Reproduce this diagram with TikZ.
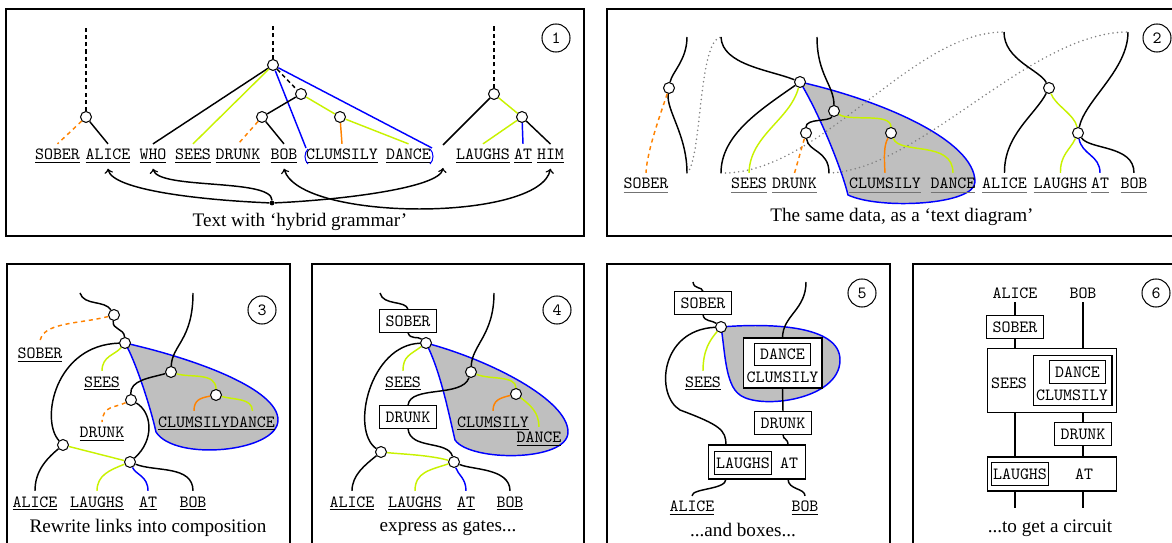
\documentclass[tikz,border=0pt]{standalone}
\usepackage{fontspec}
\setmainfont{Liberation Serif}
\usetikzlibrary{calc,backgrounds}
\definecolor{lime}{RGB}{200,242,0}
\definecolor{orng}{RGB}{255,130,0}
\definecolor{shade}{RGB}{191,191,191}
\newcommand\wu[1]{\setbox0\hbox{#1}\rlap{\copy0}\rule[-1.9pt]{\wd0}{0.45pt}}
\newcommand\wg[1]{\setbox0\hbox{#1}\rlap{\copy0}\textcolor{black!55}{\rule[-2.6pt]{\wd0}{1pt}}}
\tikzset{
  wire/.style={line width=0.85pt},
  lw/.style={wire, draw=lime},
  ow/.style={wire, draw=orng},
  bw/.style={wire, draw=blue},
  od/.style={ow, dash pattern=on 2.4pt off 2.2pt},
  kd/.style={wire, dash pattern=on 2.4pt off 1.8pt},
  thinw/.style={line width=0.6pt},
  dot/.style={circle, draw, fill=white, line width=0.6pt, minimum size=6.4pt, inner sep=0pt},
  hubdot/.style={circle, fill, minimum size=2.8pt, inner sep=0pt},
  word/.style={font=\ttfamily, inner xsep=1pt, inner ysep=3pt, anchor=base},
  tt/.style={font=\ttfamily, inner sep=1pt},
  gate/.style={draw, fill=white, line width=0.6pt, font=\ttfamily, inner xsep=3.5pt, inner ysep=0pt, minimum height=13pt},
  gatet/.style={gate, inner xsep=1.2pt},
  frame/.style={draw, line width=0.9pt},
  num/.style={circle, draw, line width=0.6pt, minimum size=16.4pt, inner sep=0pt, font=\ttfamily},
  capt/.style={font=\fontsize{11.2}{13}\selectfont, inner sep=1pt},
  region/.style={fill=shade, draw=blue, line width=0.85pt},
  link/.style={draw=black!50, line width=1pt, dash pattern=on 0pt off 2.6pt, line cap=round},
  >=to
}
\begin{document}
\begin{tikzpicture}[x=0.585pt,y=-0.585pt]
\useasboundingbox (0,0) rectangle (1172,543);
\clip (0,0) rectangle (1172,543);

% ================= Panel 1 =================
\draw[frame] (6,9) rectangle (584,236);
\node[num] (num1) at (556,38) {1};
\node[capt] (cap1) at (300,222) {Text with ‘hybrid grammar’};
\node[word] (p1sober) at (57.5,160) {\wu{SOBER}};
\node[word] (p1alice) at (108,160) {\wu{ALICE}};
\node[word] (p1who) at (153,160) {\wu{WHO}};
\node[word] (p1sees) at (193,160) {\wu{SEES}};
\node[word] (p1drunk) at (238,160) {\wu{DRUNK}};
\node[word] (p1bob) at (284,160) {\wu{BOB}};
\node[word] (p1clum) at (342,160) {\wu{CLUMSILY}};
\node[word] (p1dance) at (408.5,160) {\wu{DANCE}};
\node[word] (p1laughs) at (483,160) {\wu{LAUGHS}};
\node[word] (p1at) at (523,160) {\wu{AT}};
\node[word] (p1him) at (550.5,160) {\wu{HIM}};
\draw[blue, line width=0.6pt] (308,149) .. controls (304,153) and (304,160) .. (308,164);
\draw[blue, line width=0.6pt] (430,149) .. controls (434,153) and (434,160) .. (430,164);
\coordinate (lp) at (306,148);
\coordinate (rp) at (432,148);
\node[dot] (n1) at (86,117) {};
\node[dot] (n2) at (273,65) {};
\node[dot] (n3) at (301,94) {};
\node[dot] (n4) at (262,117) {};
\node[dot] (n5) at (340,117) {};
\node[dot] (n6) at (494,94) {};
\node[dot] (n7) at (522,117) {};
\coordinate (t1) at (86,26);
\coordinate (t2) at (273,26);
\coordinate (t3) at (494,26);
\coordinate (whoend) at (443,145);
\coordinate (whoarr) at (443,168);
\node[hubdot] (hub) at (272,203) {};
\draw[kd] (n1) -- (t1);
\draw[kd] (n2) -- (t2);
\draw[kd] (n6) -- (t3);
\draw[od] (n1) -- (p1sober.north);
\draw[wire] (n1) -- (p1alice.north);
\draw[wire] (n2) -- (p1who.north);
\draw[lw] (n2) -- (p1sees.north);
\draw[bw] (n2) -- (lp);
\draw[bw] (n2) -- (rp);
\draw[kd] (n2) -- (n3);
\draw[wire] (n3) -- (n4);
\draw[lw] (n3) -- (n5);
\draw[lw] (n5) -- (p1dance.north);
\draw[ow] (n5) -- (p1clum.north);
\draw[od] (n4) -- (p1drunk.north);
\draw[wire] (n4) -- (p1bob.north);
\draw[wire] (n6) -- (whoend);
\draw[lw] (n6) -- (n7);
\draw[lw] (n7) -- (p1laughs.north);
\draw[bw] (n7) -- (p1at.north);
\draw[wire] (n7) -- (p1him.north);
\draw[wire,->] (hub) .. controls (200,200) and (112,190) .. (p1alice.south);
\draw[wire,->] (hub) .. controls (272,178) and (158,190) .. (p1who.south);
\draw[wire,->] (hub) .. controls (340,200) and (440,188) .. (whoarr);
\draw[wire,<->] (p1bob.south) .. controls (300,222) and (540,222) .. (p1him.south);

% ================= Panel 2 =================
\draw[frame] (607,9) rectangle (1195,236);
\node[num] (num2) at (1157,38) {2};
\node[capt] (cap2) at (902,217) {The same data, as a ‘text diagram’};
\node[word] (p2sober) at (646,189) {\wg{SOBER}};
\node[word] (p2sees) at (749,189) {\wg{SEES}};
\node[word] (p2drunk) at (794.5,189) {\wg{DRUNK}};
\node[word] (p2clum) at (885,189) {\wg{CLUMSILY}};
\node[word] (p2dance) at (953,189) {\wg{DANCE}};
\node[word] (p2alice) at (1004.5,189) {\wg{ALICE}};
\node[word] (p2laughs) at (1060.5,189) {\wg{LAUGHS}};
\node[word] (p2at) at (1100,189) {\wg{AT}};
\node[word] (p2bob) at (1134,189) {\wg{BOB}};
\node[dot] (a1) at (669,88) {};
\node[dot] (a2) at (800,82) {};
\node[dot] (a3) at (834,111) {};
\node[dot] (a4) at (806,133) {};
\node[dot] (a5) at (891,133) {};
\node[dot] (a6) at (1049,88) {};
\node[dot] (a7) at (1078,133) {};
\coordinate (s1t) at (687,37);
\coordinate (s2t) at (721,37);
\coordinate (s3t) at (817,37);
\coordinate (s4t) at (1004,32);
\coordinate (s5t) at (1128,32);
\coordinate (s1b) at (687,173);
\coordinate (s2b) at (721,173);
\coordinate (s3b) at (829,173);
\begin{scope}[on background layer]
\path[region] (a2.center) .. controls (880,100) and (975,140) .. (975,182)
  .. controls (975,205) and (880,210) .. (848,195)
  .. controls (842,170) and (820,115) .. (a2.center) -- cycle;
\end{scope}
\draw[link] (s1b) .. controls (702,160) and (698,40) .. (s2t);
\draw[link] (s2b) .. controls (820,175) and (910,32) .. (s4t);
\draw[link] (s3b) .. controls (920,170) and (1030,32) .. (s5t);
\draw[wire] (s1t) .. controls (687,60) and (672,72) .. (a1);
\draw[wire] (a1) .. controls (666,110) and (687,135) .. (s1b);
\draw[od] (a1) .. controls (662,110) and (647,150) .. (p2sober.north);
\draw[wire] (s2t) .. controls (722,65) and (770,70) .. (a2);
\draw[wire] (a2) .. controls (760,110) and (721,135) .. (s2b);
\draw[lw] (a2) .. controls (790,120) and (750,135) .. (p2sees.north);
\draw[wire] (s3t) .. controls (817,75) and (834,85) .. (a3);
\draw[wire] (a3) .. controls (830,122) and (806,118) .. (a4);
\draw[lw] (a3) .. controls (850,122) and (891,112) .. (a5);
\draw[od] (a4) -- (p2drunk.north);
\draw[wire] (a4) .. controls (808,152) and (829,150) .. (s3b);
\draw[ow] (a5) .. controls (884,145) and (884,155) .. (p2clum.north);
\draw[lw] (a5) .. controls (900,155) and (953,140) .. (p2dance.north);
\draw[wire] (s4t) .. controls (1004,60) and (1040,70) .. (a6);
\draw[wire] (a6) .. controls (1035,115) and (1004,135) .. (p2alice.north);
\draw[lw] (a6) .. controls (1055,105) and (1075,115) .. (a7);
\draw[wire] (s5t) .. controls (1128,70) and (1085,100) .. (a7);
\draw[wire] (a7) .. controls (1090,150) and (1134,145) .. (p2bob.north);
\draw[lw] (a7) .. controls (1070,150) and (1060,155) .. (p2laughs.north);
\draw[bw] (a7) .. controls (1082,155) and (1100,155) .. (p2at.north);

% ================= Panel 3 =================
\draw[frame] (7,264) rectangle (290,560);
\node[num] (num3) at (262,310) {3};
\node[capt] (cap3) at (148,528) {Rewrite links into composition};
\node[word] (p3sober) at (40,359) {\wu{SOBER}};
\node[word] (p3sees) at (102,387) {\wu{SEES}};
\node[word, inner xsep=0pt] (p3clum) at (194,427) {\wu{CLUMSILY}};
\node[word, inner xsep=0pt] (p3dance) at (252.5,427) {\wu{DANCE}};
\node[word] (p3drunk) at (102,438) {\wu{DRUNK}};
\node[word] (p3alice) at (35,507) {\wu{ALICE}};
\node[word] (p3laughs) at (97,507) {\wu{LAUGHS}};
\node[word] (p3at) at (148,507) {\wu{AT}};
\node[word] (p3bob) at (193,507) {\wu{BOB}};
\node[dot] (b1) at (114,315) {};
\node[dot] (b2) at (125,343) {};
\node[dot] (b3) at (171,372) {};
\node[dot] (b4) at (131,400) {};
\node[dot] (b5) at (216,395) {};
\node[dot] (b7) at (63,445) {};
\node[dot] (b8) at (130,462) {};
\coordinate (q1) at (80,293);
\coordinate (q2) at (193,293);
\begin{scope}[on background layer]
\path[region] (b2.center) .. controls (200,360) and (278,390) .. (278,420)
  .. controls (278,452) and (175,462) .. (156,432)
  .. controls (150,405) and (135,360) .. (b2.center) -- cycle;
\end{scope}
\draw[wire] (q1) .. controls (84,306) and (105,300) .. (b1);
\draw[wire] (b1) .. controls (112,330) and (124,328) .. (b2);
\draw[od] (b1) .. controls (80,324) and (40,322) .. (p3sober.north);
\draw[lw] (b2) .. controls (115,355) and (102,356) .. (p3sees.north);
\draw[wire] (b2) .. controls (55,345) and (40,420) .. (b7);
\draw[wire] (q2) .. controls (193,340) and (172,345) .. (b3);
\draw[wire] (b3) .. controls (150,378) and (130,380) .. (b4);
\draw[lw] (b3) .. controls (190,378) and (216,372) .. (b5);
\draw[ow] (b5) .. controls (200,398) and (194,400) .. (p3clum.north);
\draw[lw] (b5) .. controls (235,400) and (252,398) .. (p3dance.north);
\draw[od] (b4) .. controls (115,408) and (103,405) .. (p3drunk.north);
\draw[wire] (b4) .. controls (152,412) and (155,440) .. (b8);
\draw[wire] (b7) .. controls (45,460) and (35,472) .. (p3alice.north);
\draw[lw] (b7) -- (b8);
\draw[lw] (b8) .. controls (110,470) and (97,475) .. (p3laughs.north);
\draw[bw] (b8) .. controls (136,475) and (148,476) .. (p3at.north);
\draw[wire] (b8) .. controls (155,472) and (193,465) .. (p3bob.north);

% ================= Panel 4 =================
\draw[frame] (312,264) rectangle (584,560);
\node[num] (num4) at (557,310) {4};
\node[capt] (cap4) at (448,528) {express as gates...};
\node[gate] (p4sober) at (408,321) {SOBER};
\node[gate] (p4drunk) at (408,417) {DRUNK};
\node[word] (p4sees) at (403,387) {\wu{SEES}};
\node[word] (p4clum) at (493,427) {\wu{CLUMSILY}};
\node[word] (p4dance) at (539,443) {\wu{DANCE}};
\node[word] (p4alice) at (352,507) {\wu{ALICE}};
\node[word] (p4laughs) at (415,507) {\wu{LAUGHS}};
\node[word] (p4at) at (466,507) {\wu{AT}};
\node[word] (p4bob) at (510,507) {\wu{BOB}};
\node[dot] (c1) at (426,343) {};
\node[dot] (c3) at (471,372) {};
\node[dot] (c5) at (516,394) {};
\node[dot] (c7) at (381,452) {};
\node[dot] (c8) at (454,462) {};
\coordinate (r1) at (380,293);
\coordinate (r2) at (494,293);
\begin{scope}[on background layer]
\path[region] (c1.center) .. controls (490,360) and (568,400) .. (568,432)
  .. controls (568,462) and (470,462) .. (455,440)
  .. controls (448,410) and (440,370) .. (c1.center) -- cycle;
\end{scope}
\draw[wire] (r1) .. controls (383,306) and (406,300) .. (p4sober.north);
\draw[wire] (p4sober.south) .. controls (410,340) and (418,336) .. (c1);
\draw[lw] (c1) .. controls (410,355) and (403,356) .. (p4sees.north);
\draw[wire] (c1) .. controls (370,345) and (350,430) .. (c7);
\draw[wire] (r2) .. controls (494,335) and (472,345) .. (c3);
\draw[wire] (c3) .. controls (462,398) and (410,385) .. (p4drunk.north);
\draw[lw] (c3) .. controls (490,380) and (516,375) .. (c5);
\draw[ow] (c5) .. controls (500,398) and (493,400) .. (p4clum.north);
\draw[lw] (c5) .. controls (530,405) and (539,412) .. (p4dance.north);
\draw[wire] (c7) .. controls (365,465) and (352,475) .. (p4alice.north);
\draw[lw] (c7) .. controls (400,454) and (430,455) .. (c8);
\draw[wire] (p4drunk.south) .. controls (410,450) and (448,440) .. (c8);
\draw[lw] (c8) .. controls (430,470) and (415,472) .. (p4laughs.north);
\draw[bw] (c8) .. controls (458,475) and (466,478) .. (p4at.north);
\draw[wire] (c8) .. controls (472,470) and (510,468) .. (p4bob.north);

% ================= Panel 5 =================
\draw[frame] (607,264) rectangle (890,560);
\node[num] (num5) at (862,293) {5};
\node[capt] (cap5) at (743,530) {...and boxes...};
\node[dot] (d1) at (721,327) {};
\begin{scope}[on background layer]
\path[region] (d1.center) .. controls (770,323) and (840,325) .. (840,360)
  .. controls (840,400) and (760,410) .. (740,395)
  .. controls (725,385) and (725,350) .. (d1.center) -- cycle;
\end{scope}
\node[gate] (p5sober) at (703,303) {SOBER};
\node[gate, minimum width=46.2pt, minimum height=29.25pt] (p5dc) at (782.5,363) {};
\node[gate] (p5dance) at (782.5,354.5) {DANCE};
\node[tt] (p5clum) at (782.5,377) {CLUMSILY};
\node[gate] (p5drunk) at (783,423) {DRUNK};
\node[gate, minimum width=56.2pt, minimum height=19.9pt] (p5lat) at (757,462) {};
\node[gatet] (p5laughs) at (743,463) {LAUGHS};
\node[tt] (p5at) at (789,463) {AT};
\node[word] (p5sees) at (703,387) {\wu{SEES}};
\node[word] (p5alice) at (692,512) {\wu{ALICE}};
\node[word] (p5bob) at (805,512) {\wu{BOB}};
\coordinate (u1) at (693,282);
\coordinate (u2) at (806,282);
\coordinate (p5i1) at (726,445);
\coordinate (p5i2) at (788,445);
\coordinate (p5o1) at (726,479);
\coordinate (p5o2) at (788,479);
\draw[wire] (u1) .. controls (694,290) and (702,286) .. (p5sober.north);
\draw[wire] (p5sober.south) .. controls (704,322) and (712,320) .. (d1);
\draw[lw] (d1) .. controls (710,340) and (703,350) .. (p5sees.north);
\draw[wire] (d1) .. controls (660,330) and (655,395) .. (680,410) .. controls (720,425) and (726,430) .. (p5i1);
\draw[wire] (u2) .. controls (806,310) and (783,315) .. (p5dc.north);
\draw[wire] (p5dc.south) -- (p5drunk.north);
\draw[wire] (p5drunk.south) .. controls (783,440) and (788,438) .. (p5i2);
\draw[wire] (p5o1) .. controls (726,490) and (692,488) .. (p5alice.north);
\draw[wire] (p5o2) .. controls (788,490) and (805,488) .. (p5bob.north);

% ================= Panel 6 =================
\draw[frame] (913,264) rectangle (1195,560);
\node[num] (num6) at (1156,293) {6};
\node[capt] (cap6) at (1050,528) {...to get a circuit};
\node[tt, inner sep=2pt] (p6alice) at (1015,293) {ALICE};
\node[tt, inner sep=2pt] (p6bob) at (1083,293) {BOB};
\node[gate] (p6sober) at (1015,327) {SOBER};
\node[gate, minimum width=76pt, minimum height=36.9pt] (p6outer) at (1052,380.5) {};
\node[gate, minimum width=46.2pt, minimum height=29.8pt] (p6inner) at (1072.5,380.5) {};
\node[gate] (p6dance) at (1077.5,372) {DANCE};
\node[tt] (p6clum) at (1072,395) {CLUMSILY};
\node[tt] (p6sees) at (1009,383) {SEES};
\node[gate] (p6drunk) at (1083,434) {DRUNK};
\node[gate, minimum width=76pt, minimum height=19.9pt] (p6lat) at (1052,474) {};
\node[gatet] (p6laughs) at (1020,474) {LAUGHS};
\node[tt] (p6at) at (1084,474) {AT};
\coordinate (p6e1) at (1015,508);
\coordinate (p6e2) at (1083,508);
\draw[thinw] (p6alice.south) -- (p6sober.north);
\draw[thinw] (p6sober.south) -- (p6sober.south |- p6outer.north);
\draw[thinw] (p6bob.south) -- (p6bob.south |- p6outer.north);
\draw[thinw] (p6outer.south -| p6sober) -- (p6lat.north -| p6sober);
\draw[thinw] (p6outer.south -| p6drunk) -- (p6drunk.north);
\draw[thinw] (p6drunk.south) -- (p6lat.north -| p6drunk);
\draw[thinw] (p6lat.south -| p6sober) -- (p6e1);
\draw[thinw] (p6lat.south -| p6drunk) -- (p6e2);
\end{tikzpicture}
\end{document}
